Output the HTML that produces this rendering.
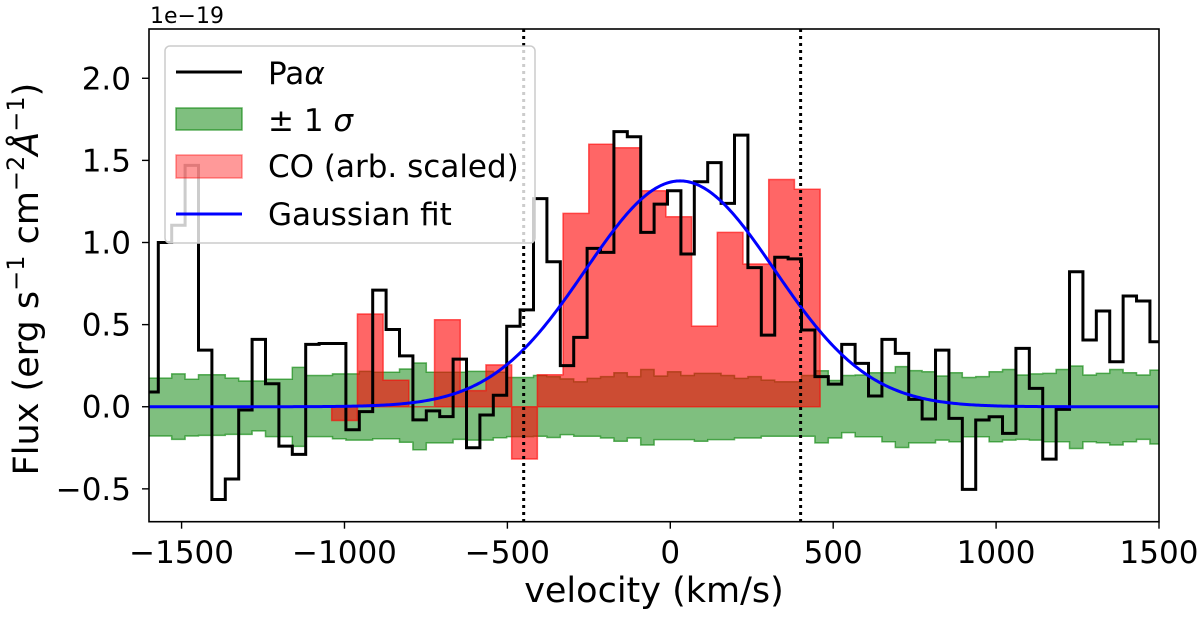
<!DOCTYPE html>
<html><head><meta charset="utf-8">
<style>
html,body{margin:0;padding:0;background:#fff;}
svg{display:block;font-family:"DejaVu Sans","Liberation Sans",sans-serif;}
</style></head>
<body>
<svg id="chart" width="1200" height="621" viewBox="0 0 1200 621" xmlns="http://www.w3.org/2000/svg">
  <defs><clipPath id="plotclip"><rect x="149" y="29" width="1010" height="492.7"/></clipPath></defs>
  <g id="plot" clip-path="url(#plotclip)"></g>
  <rect x="149" y="29" width="1010" height="492.7" fill="none" stroke="#000" stroke-width="1.6"/>
  <g id="xticks"></g>
  <g id="yticks"></g>
  <text x="150" y="23" font-size="22">1e−19</text>
  <text x="654" y="602" font-size="35" text-anchor="middle">velocity (km/s)</text>
  <text transform="translate(38,279) rotate(-90)" font-size="35" text-anchor="middle">Flux (erg s<tspan dy="-14" font-size="24">−1</tspan><tspan dy="14"> cm</tspan><tspan dy="-14" font-size="24">−2</tspan><tspan dy="14" font-style="italic">Å</tspan><tspan dy="-14" font-size="24">−1</tspan><tspan dy="14">)</tspan></text>
  <g id="legend">
    <rect x="165" y="46" width="370" height="197" rx="5" fill="#fff" fill-opacity="0.8" stroke="#ccc" stroke-width="1.5"/>
    <g>
      <line x1="176" y1="72" x2="242" y2="72" stroke="#000" stroke-width="3"/>
      <text x="268" y="84" font-size="31">Pa<tspan font-style="italic">α</tspan></text>
    </g>
    <g>
      <rect x="176" y="108" width="66" height="22" fill="#008000" fill-opacity="0.5" stroke="#008000" stroke-opacity="0.6" stroke-width="1.5"/>
      <text x="268" y="131" font-size="31">± 1 <tspan font-style="italic">σ</tspan></text>
    </g>
    <g>
      <rect x="176" y="155" width="66" height="23" fill="#ff0000" fill-opacity="0.4" stroke="#ff0000" stroke-opacity="0.4" stroke-width="1.5"/>
      <text x="268" y="177" font-size="31">CO (arb. scaled)</text>
    </g>
    <g>
      <line x1="176" y1="214" x2="242" y2="214" stroke="#0000ff" stroke-width="3"/>
      <text x="268" y="225" font-size="31">Gaussian fit</text>
    </g>
  </g>
</svg>
<script>
// ---- data ----
const paStart = -1612.6;   // first Pa-alpha bin edge (km/s)
const paWidth = 41.13;     // Pa-alpha bin width (km/s)
const paFlux = [0.09,1.0,1.105,1.47,0.345,-0.565,-0.44,-0.02,0.41,0.14,-0.24,-0.29,0.38,0.385,0.385,-0.14,-0.03,0.71,0.47,0.31,-0.08,-0.025,-0.06,0.29,-0.25,-0.05,0.07,0.49,0.59,1.267,0.883,0.25,0.422,0.964,0.94,1.675,1.644,1.062,1.234,1.315,0.93,1.37,1.486,1.238,1.654,0.847,0.436,0.91,0.90,0.467,0.183,0.138,0.38,0.264,0.065,0.41,0.325,0.045,-0.075,0.345,-0.071,-0.503,-0.081,-0.061,-0.162,0.355,0.112,-0.319,-0.016,0.822,0.406,0.583,0.274,0.674,0.644,0.396];
const sigUp = [0.174,0.174,0.20,0.167,0.195,0.195,0.174,0.157,0.157,0.167,0.167,0.24,0.19,0.19,0.20,0.20,0.215,0.21,0.21,0.23,0.266,0.21,0.21,0.21,0.215,0.215,0.21,0.178,0.178,0.19,0.183,0.17,0.152,0.173,0.183,0.207,0.183,0.227,0.187,0.213,0.19,0.203,0.203,0.19,0.173,0.183,0.162,0.152,0.152,0.19,0.219,0.16,0.19,0.193,0.207,0.207,0.244,0.22,0.213,0.187,0.207,0.178,0.183,0.213,0.227,0.193,0.2,0.203,0.227,0.248,0.193,0.203,0.227,0.207,0.193,0.223];
const sigLo = [0.178,0.178,0.199,0.178,0.174,0.174,0.168,0.168,0.147,0.182,0.182,0.241,0.182,0.182,0.195,0.203,0.203,0.195,0.195,0.216,0.262,0.22,0.22,0.199,0.203,0.203,0.189,0.182,0.182,0.18,0.187,0.17,0.18,0.18,0.19,0.21,0.19,0.233,0.2,0.2,0.2,0.21,0.2,0.2,0.19,0.19,0.18,0.18,0.18,0.18,0.22,0.19,0.158,0.183,0.183,0.213,0.248,0.22,0.22,0.203,0.213,0.183,0.183,0.213,0.203,0.199,0.203,0.213,0.213,0.254,0.213,0.219,0.233,0.213,0.199,0.227];
const coStart = -1039.2;   // first CO bin edge (km/s)
const coWidth = 78.9;      // CO bin width (km/s)
const coFlux = [-0.084,0.565,0.161,0.0,0.53,0.098,0.255,-0.318,0.195,1.177,1.598,1.577,1.315,1.157,0.491,1.062,0.869,1.384,1.324];
const gaussAmp = [1.375];
const gaussCenter = [30];
const gaussSigma = [290];
const vLines = [-450, 400];
const xTicks = [-1500,-1000,-500,0,500,1000,1500];
const yTicks = [-0.5,0.0,0.5,1.0,1.5,2.0];

// ---- axes ----
const X = v => 149 + (v + 1600) * (1010 / 3100);
const Y = f => 29 + (2.3 - f) * (492.7 / 3.0);
const NS = 'http://www.w3.org/2000/svg';
const plot = document.getElementById('plot');
function mk(tag, attrs, parent) {
  const e = document.createElementNS(NS, tag);
  for (const k in attrs) e.setAttribute(k, attrs[k]);
  parent.appendChild(e);
  return e;
}

// sigma band
let up = '', lo = '';
paFlux.forEach((_, i) => {
  const a = X(paStart + i * paWidth), b = X(paStart + (i + 1) * paWidth);
  up += (i === 0 ? 'M' : 'L') + a + ',' + Y(sigUp[i]) + 'L' + b + ',' + Y(sigUp[i]);
});
for (let i = paFlux.length - 1; i >= 0; i--) {
  const a = X(paStart + i * paWidth), b = X(paStart + (i + 1) * paWidth);
  lo += 'L' + b + ',' + Y(-sigLo[i]) + 'L' + a + ',' + Y(-sigLo[i]);
}
const band = mk('path', {d: up + lo + 'Z', fill: '#008000', 'fill-opacity': '0.5', stroke: '#008000', 'stroke-opacity': '0.6', 'stroke-width': '1.5'}, plot);



// CO step fill (single region)
let cd = 'M' + X(coStart) + ',' + Y(0);
coFlux.forEach((f, i) => {
  const a = X(coStart + i * coWidth), b = X(coStart + (i + 1) * coWidth);
  cd += 'L' + a + ',' + Y(f) + 'L' + b + ',' + Y(f);
});
cd += 'L' + X(coStart + coFlux.length * coWidth) + ',' + Y(0) + 'Z';
const co = mk('path', {d: cd, fill: '#ff0000', 'fill-opacity': '0.6', stroke: '#ff0000', 'stroke-opacity': '0.6', 'stroke-width': '1.5'}, plot);



// Pa-alpha step line
let d = '';
paFlux.forEach((f, i) => {
  const a = X(paStart + i * paWidth), b = X(paStart + (i + 1) * paWidth);
  d += (i === 0 ? 'M' : 'L') + a + ',' + Y(f) + 'L' + b + ',' + Y(f);
});
const pa = mk('path', {d: d, fill: 'none', stroke: '#000', 'stroke-width': '3', 'stroke-linejoin': 'miter'}, plot);



// Gaussian fit
let g = '';
for (let v = -1600; v <= 1500; v += 5) {
  const f = gaussAmp[0] * Math.exp(-0.5 * Math.pow((v - gaussCenter[0]) / gaussSigma[0], 2));
  g += (v === -1600 ? 'M' : 'L') + X(v).toFixed(2) + ',' + Y(f).toFixed(2);
}
const gl = mk('path', {d: g, fill: 'none', stroke: '#0000ff', 'stroke-width': '3'}, plot);



// dotted vertical lines
vLines.forEach(v => {
  const l = mk('line', {x1: X(v), x2: X(v), y1: 29, y2: 521.7, stroke: '#000', 'stroke-width': '3', 'stroke-dasharray': '3,4'}, plot);
  
  
});

// ticks
const xg = document.getElementById('xticks');
xTicks.forEach(t => {
  const x = X(t);
  const tk = mk('line', {x1: x, x2: x, y1: 521.7, y2: 528.7, stroke: '#000', 'stroke-width': '1.4'}, xg);
  
  
  const tx = mk('text', {x: x, y: 563, 'font-size': '31', 'text-anchor': 'middle'}, xg);
  tx.textContent = (t < 0 ? '−' : '') + Math.abs(t);
  
  
});
const yg = document.getElementById('yticks');
yTicks.forEach(t => {
  const y = Y(t);
  const tk = mk('line', {x1: 142, x2: 149, y1: y, y2: y, stroke: '#000', 'stroke-width': '1.4'}, yg);
  
  
  const tx = mk('text', {x: 131, y: y + 11, 'font-size': '31', 'text-anchor': 'end'}, yg);
  tx.textContent = (t < 0 ? '−' : '') + Math.abs(t).toFixed(1);
  
  
});
</script>
</body></html>
